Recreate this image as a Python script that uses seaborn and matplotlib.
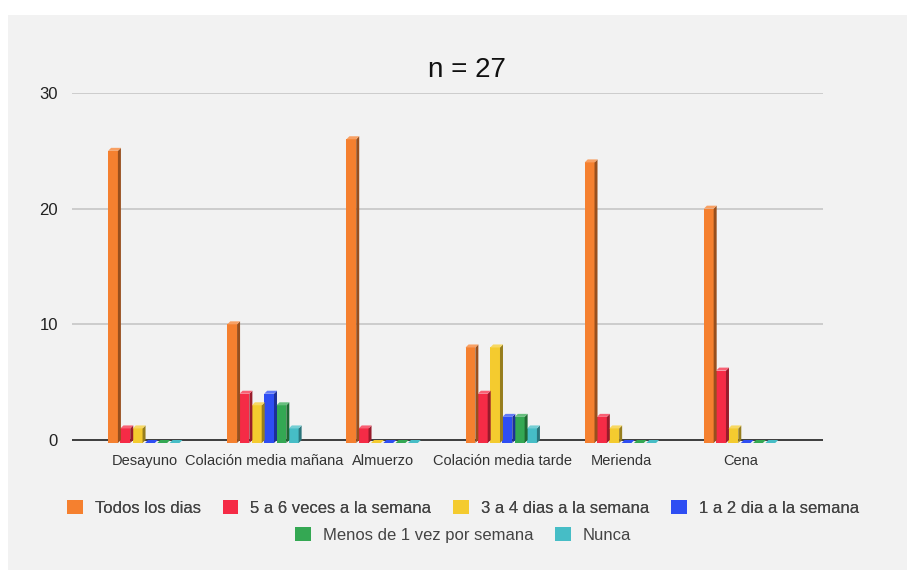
import matplotlib
matplotlib.use("Agg")
import matplotlib.pyplot as plt
from matplotlib.patches import Rectangle, Polygon, Patch
from matplotlib.colors import to_rgb
import seaborn as sns
import pandas as pd

# Meals (x categories)
comidas = ["Desayuno", "Colación media mañana", "Almuerzo",
           "Colación media tarde", "Merienda", "Cena"]

# Frequency series
frecuencias = ["Todos los dias", "5 a 6 veces a la semana",
               "3 a 4 dias a la semana", "1 a 2 dia a la semana",
               "Menos de 1 vez por semana", "Nunca"]

todos_los_dias = [25, 10, 26, 8, 24, 20]
cinco_a_seis = [1, 4, 1, 4, 2, 6]
tres_a_cuatro = [1, 3, 0, 8, 1, 1]
uno_a_dos = [0, 4, 0, 2, 0, 0]
menos_de_uno = [0, 3, 0, 2, 0, 0]
nunca = [0, 1, 0, 1, 0, 0]

y_ticks = [0, 10, 20, 30]
titulo = "n = 27"

colores = ["#F5802F", "#F52B46", "#F4CB2F", "#2E4EF3", "#34A853", "#46BDC6"]

series = [todos_los_dias, cinco_a_seis, tres_a_cuatro, uno_a_dos, menos_de_uno, nunca]
rows = []
for f, vals in zip(frecuencias, series):
    for c, v in zip(comidas, vals):
        rows.append({"comida": c, "frecuencia": f, "valor": v})
df = pd.DataFrame(rows)

sns.set_theme(style="white")
plt.rcParams["font.family"] = ["Liberation Sans", "DejaVu Sans"]

W, H = 907, 570
fig = plt.figure(figsize=(W / 100, H / 100), dpi=100, facecolor="white")
fig.patches.append(Rectangle((8 / W, 0), 1 - 8 / W, 1 - 15 / H,
                             transform=fig.transFigure, facecolor="#f2f2f2",
                             edgecolor="none", zorder=-10))

y_min = -0.4
px_per_unit = 347 / 30
ax_bottom_px = 440 + (-y_min) * px_per_unit
ax = fig.add_axes([72 / W, (H - ax_bottom_px) / H, (823 - 72) / W, (ax_bottom_px - 93) / H])
ax.set_facecolor("none")

sns.barplot(data=df, x="comida", y="valor", hue="frecuencia", order=comidas,
            hue_order=frecuencias, palette=colores, width=0.62, saturation=1,
            legend=False, ax=ax, zorder=3, edgecolor="none", linewidth=0)

ax.set_xlim(-0.613, 5.69)
ax.set_ylim(y_min, 30)
ax.set_yticks(y_ticks)
ax.set_yticklabels([str(t) for t in y_ticks])
for s in ax.spines.values():
    s.set_visible(False)
ax.grid(axis="y", color="#cccccc", linewidth=1.4, zorder=0)
ax.grid(axis="x", visible=False)
ax.axhline(0, color="#333333", linewidth=1.3, zorder=2)
ax.set_xlabel("")
ax.set_ylabel("")
ax.tick_params(axis="y", length=0, pad=10, labelsize=12, labelcolor="#222222")
ax.tick_params(axis="x", length=0, pad=7, labelsize=10.5, labelcolor="#333333")

# Pseudo-3D depth on each bar: side face and top face
fig.canvas.draw()
p0 = ax.transData.transform((0, 0))
p1 = ax.transData.transform((1, 1))
ux = p1[0] - p0[0]
uy = p1[1] - p0[1]
dx = 3 / ux
dy = 3 / uy


def shade(c, k):
    r, g, b = to_rgb(c)
    return (r * k, g * k, b * k)


def tint(c, k):
    r, g, b = to_rgb(c)
    return (r + (1 - r) * k, g + (1 - g) * k, b + (1 - b) * k)


for p in list(ax.patches):
    x, w, h = p.get_x(), p.get_width(), p.get_height()
    col = p.get_facecolor()
    wf = w - 2.5 / ux
    y0 = -dy
    p.set_width(wf)
    p.set_y(y0)
    p.set_height(h + dy)
    p.set_clip_on(False)
    top = h
    side = Polygon([(x + wf, y0), (x + wf, top), (x + wf + dx, top + dy), (x + wf + dx, y0 + dy)],
                   closed=True, facecolor=shade(col, 0.62), edgecolor="none",
                   zorder=3, clip_on=False)
    ax.add_patch(side)
    if h > 0:
        cap = Polygon([(x, top), (x + wf, top), (x + wf + dx, top + dy), (x + dx, top + dy)],
                      closed=True, facecolor=tint(col, 0.25),
                      edgecolor="none", zorder=3, clip_on=False)
    else:
        cap = Polygon([(x, y0), (x + wf, y0), (x + wf + dx, 0), (x + dx, 0)],
                      closed=True, facecolor=col,
                      edgecolor="none", zorder=3, clip_on=False)
        p.set_visible(False)
        side.set_visible(False)
    ax.add_patch(cap)

fig.text(467 / W, 1 - 70 / H, titulo, ha="center", va="center",
         fontsize=20, color="#111111")

handles = [Patch(facecolor=c, edgecolor="none") for c in colores]
leg_kw = dict(loc="center", frameon=False, fontsize=12, handlelength=0.95,
              handleheight=0.95, handletextpad=0.72, columnspacing=1.3,
              labelcolor="#444444")
leg1 = fig.legend(handles[:4], frecuencias[:4], ncol=4,
                  bbox_to_anchor=(463 / W, 1 - 508 / H), **leg_kw)
fig.add_artist(leg1)
fig.legend(handles[4:], frecuencias[4:], ncol=2,
           bbox_to_anchor=(463 / W, 1 - 535 / H), **leg_kw)

fig.savefig("out.png", dpi=100, facecolor="white")
